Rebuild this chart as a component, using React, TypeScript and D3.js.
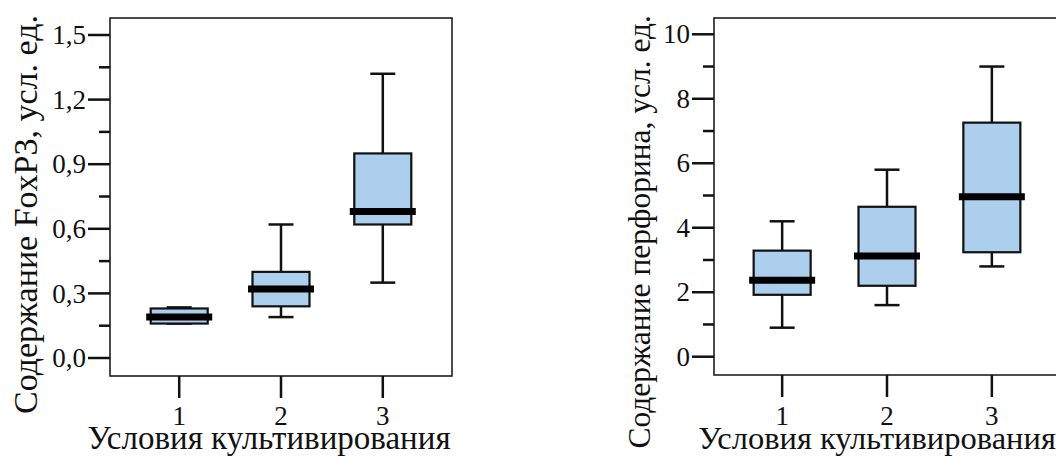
import React, { useEffect, useRef } from "react";
import * as d3 from "d3";

const categories = ["1", "2", "3"];

const foxp3Min = [0.16, 0.19, 0.35];
const foxp3Q1 = [0.16, 0.24, 0.62];
const foxp3Median = [0.19, 0.32, 0.68];
const foxp3Q3 = [0.23, 0.4, 0.95];
const foxp3Max = [0.235, 0.62, 1.32];
const foxp3Ticks = [0, 0.3, 0.6, 0.9, 1.2, 1.5];
const foxp3Minor = [0.15, 0.45, 0.75, 1.05, 1.35];

const perfMin = [0.9, 1.6, 2.8];
const perfQ1 = [1.92, 2.2, 3.24];
const perfMedian = [2.37, 3.12, 4.96];
const perfQ3 = [3.29, 4.65, 7.26];
const perfMax = [4.2, 5.8, 9.0];
const perfTicks = [0, 2, 4, 6, 8, 10];
const perfMinor = [1, 3, 5, 7, 9];

const FONT = "'Liberation Serif', 'Times New Roman', serif";
const BOX_FILL = "#abcfed";
const INK = "#111";

type PanelProps = {
  left: number;
  right: number;
  top: number;
  bottom: number;
  yDomain: [number, number];
  yRange: [number, number];
  ticks: number[];
  minor: number[];
  fmt: (v: number) => string;
  mins: number[];
  q1s: number[];
  medians: number[];
  q3s: number[];
  maxs: number[];
  yTitle: string;
  yTitleX: number;
  yTitleSize: number;
  xTitleX: number;
  xTitleSize: number;
  padding: number;
};

const Panel = (p: PanelProps) => {
  const gRef = useRef<SVGGElement>(null);

  useEffect(() => {
    const g = d3.select(gRef.current);
    g.selectAll("*").remove();

    const x = d3.scalePoint().domain(categories).range([p.left, p.right]).padding(p.padding);
    const y = d3.scaleLinear().domain(p.yDomain).range(p.yRange);

    const rows = categories.map((c, i) => ({
      c,
      min: p.mins[i],
      q1: p.q1s[i],
      med: p.medians[i],
      q3: p.q3s[i],
      max: p.maxs[i],
    }));

    // frame
    g.append("rect")
      .attr("x", p.left)
      .attr("y", p.top)
      .attr("width", p.right - p.left)
      .attr("height", p.bottom - p.top)
      .attr("fill", "none")
      .attr("stroke", INK)
      .attr("stroke-width", 1.5);

    // y ticks
    g.selectAll(".ymaj")
      .data(p.ticks)
      .enter()
      .append("line")
      .attr("x1", p.left - 22)
      .attr("x2", p.left)
      .attr("y1", (d) => y(d))
      .attr("y2", (d) => y(d))
      .attr("stroke", INK)
      .attr("stroke-width", 2.5);

    g.selectAll(".ymin")
      .data(p.minor)
      .enter()
      .append("line")
      .attr("x1", p.left - 11)
      .attr("x2", p.left)
      .attr("y1", (d) => y(d))
      .attr("y2", (d) => y(d))
      .attr("stroke", INK)
      .attr("stroke-width", 2.5);

    g.selectAll(".ylab")
      .data(p.ticks)
      .enter()
      .append("text")
      .attr("x", p.left - 24)
      .attr("y", (d) => y(d))
      .attr("dy", "0.34em")
      .attr("text-anchor", "end")
      .attr("font-family", FONT)
      .attr("font-size", 27)
      .attr("fill", INK)
      .text((d) => p.fmt(d));

    // x ticks
    g.selectAll(".xt")
      .data(categories)
      .enter()
      .append("line")
      .attr("x1", (d) => x(d)!)
      .attr("x2", (d) => x(d)!)
      .attr("y1", p.bottom)
      .attr("y2", p.bottom + 22)
      .attr("stroke", INK)
      .attr("stroke-width", 2.5);

    g.selectAll(".xlab")
      .data(categories)
      .enter()
      .append("text")
      .attr("x", (d) => x(d)!)
      .attr("y", 425)
      .attr("text-anchor", "middle")
      .attr("font-family", FONT)
      .attr("font-size", 27)
      .attr("fill", INK)
      .text((d) => d);

    g.append("text")
      .attr("x", p.xTitleX)
      .attr("y", 449)
      .attr("text-anchor", "middle")
      .attr("font-family", FONT)
      .attr("font-size", p.xTitleSize)
      .attr("fill", INK)
      .text("Условия культивирования");

    g.append("text")
      .attr("transform", `translate(${p.yTitleX},15) rotate(-90)`)
      .attr("text-anchor", "end")
      .attr("font-family", FONT)
      .attr("font-size", p.yTitleSize)
      .attr("fill", INK)
      .text(p.yTitle);

    // boxes
    const boxW = 57;
    const capW = 25;
    const medW = 66;
    const b = g.selectAll(".box").data(rows).enter().append("g");

    b.append("line")
      .attr("x1", (d) => x(d.c)!)
      .attr("x2", (d) => x(d.c)!)
      .attr("y1", (d) => y(d.max))
      .attr("y2", (d) => y(d.min))
      .attr("stroke", INK)
      .attr("stroke-width", 2.5);

    b.append("line")
      .attr("x1", (d) => x(d.c)! - capW / 2)
      .attr("x2", (d) => x(d.c)! + capW / 2)
      .attr("y1", (d) => y(d.max))
      .attr("y2", (d) => y(d.max))
      .attr("stroke", INK)
      .attr("stroke-width", 2.5);

    b.append("line")
      .attr("x1", (d) => x(d.c)! - capW / 2)
      .attr("x2", (d) => x(d.c)! + capW / 2)
      .attr("y1", (d) => y(d.min))
      .attr("y2", (d) => y(d.min))
      .attr("stroke", INK)
      .attr("stroke-width", 2.5);

    b.append("rect")
      .attr("x", (d) => x(d.c)! - boxW / 2)
      .attr("y", (d) => y(d.q3))
      .attr("width", boxW)
      .attr("height", (d) => y(d.q1) - y(d.q3))
      .attr("fill", BOX_FILL)
      .attr("stroke", INK)
      .attr("stroke-width", 2.2);

    b.append("line")
      .attr("x1", (d) => x(d.c)! - medW / 2)
      .attr("x2", (d) => x(d.c)! + medW / 2)
      .attr("y1", (d) => y(d.med))
      .attr("y2", (d) => y(d.med))
      .attr("stroke", "#000")
      .attr("stroke-width", 7);
  }, [p]);

  return <g ref={gRef}></g>;
};

const fmtComma = (v: number) => d3.format(".1f")(v).replace(".", ",");
const fmtInt = (v: number) => d3.format("d")(v);

export default function App() {
  return (
    <svg
      width={1056}
      height={457}
      style={{ position: "absolute", left: 0, top: 0, background: "#fff" }}
    >
      <Panel
        left={110}
        right={452}
        top={18}
        bottom={376}
        yDomain={[0, 1.5]}
        yRange={[358, 35]}
        ticks={foxp3Ticks}
        minor={foxp3Minor}
        fmt={fmtComma}
        mins={foxp3Min}
        q1s={foxp3Q1}
        medians={foxp3Median}
        q3s={foxp3Q3}
        maxs={foxp3Max}
        yTitle="Содержание FoxP3, усл. ед."
        yTitleX={37}
        yTitleSize={34}
        xTitleX={269}
        xTitleSize={33}
        padding={0.68}
      />
      <Panel
        left={714}
        right={1060}
        top={18}
        bottom={375}
        yDomain={[0, 10]}
        yRange={[356.7, 34.3]}
        ticks={perfTicks}
        minor={perfMinor}
        fmt={fmtInt}
        mins={perfMin}
        q1s={perfQ1}
        medians={perfMedian}
        q3s={perfQ3}
        maxs={perfMax}
        yTitle="Содержание перфорина, усл. ед."
        yTitleX={650}
        yTitleSize={31.5}
        xTitleX={877}
        xTitleSize={32.5}
        padding={0.65}
      />
    </svg>
  );
}
